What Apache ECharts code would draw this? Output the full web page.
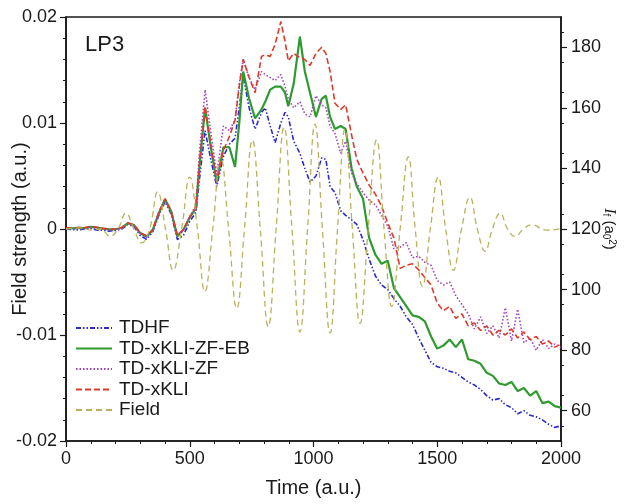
<!DOCTYPE html>
<html>
<head>
<meta charset="utf-8">
<script src="https://cdn.jsdelivr.net/npm/echarts@6/dist/echarts.min.js"></script>
<style>
html,body{margin:0;padding:0;background:#fff;}
#chart{width:635px;height:504px;}
</style>
</head>
<body>
<div id="chart"></div>
<script>
// ---- data ----
const times = [0,25,50,75,100,125,150,175,200,225,250,275,300,325,350,375,400,425,450,475,500,525,
  540,562,585,609,636,660,683,700,716,740,764,790,805,825,845,868,885,898,920,945,965,986,1010,1033,1050,1067,1087,1110,1130,1154,1175,1200,
  1225,1250,1275,1300,1325,1350,1375,1400,1425,1450,1475,1500,1525,1550,1575,1600,1625,1650,1675,1700,1725,1750,1775,1800,1825,1850,1875,1900,1925,1950,1975,2000];

const tdhf = [120.0,119.8,119.7,120.0,120.2,119.6,119.6,119.3,119.5,120.0,121.5,120.8,117.8,116.6,119.0,124.5,129.0,125.0,116.5,118.0,122.5,125.5,
  137,152.5,143,134,144,148,150,160,170.5,160,153,158.5,160,154,148.5,155,158.5,157,149,145,140,135.5,137.5,143.5,143,134,132,126,124.5,123,121.5,116.5,
  110,104.5,101.5,100,97,94.5,91,88.5,84,80,76,74.5,74,73,72.5,71,69.5,68.5,67,65,63.5,64,62,61,59,60,58.5,58,57,55.5,54.5,55];

const zfeb = [120.3,120.2,120.4,120.3,120.7,120.5,120.1,119.9,119.9,120.4,121.9,121.3,118.6,117.5,119.6,125.2,129.8,125.8,117.6,119.8,123.8,126.8,
  141.5,160,147,135.5,147,147,140.5,155,172,163,156.5,159.5,162,166,167,167,165,160.5,168,183.5,172,165,157,163,164,157,153,154,153,140,134,130,
  117,111.5,108.5,109.5,100.5,97.5,94.5,91.5,91,89.5,84.5,80.5,81.5,83.5,81,83.5,77,76.5,75.5,72.5,71.5,69,68.5,69.5,66.5,67.5,65,66.5,62.5,63,61.5,61];

const zf = [120.2,120.0,120.2,120.1,120.5,120.2,119.9,119.6,119.8,120.2,121.7,121.0,118.4,117.2,119.4,125.2,129.7,125.7,117.6,119.6,124.0,128.0,
  146,166,152,138,154,152.5,156,168,176,170,166,172,171,170,169,171,167,163,160,162,158,157,164,161,160,154,151.5,145,149,138.5,135,132,
  129.5,128,124.5,121,113.5,114,115.5,110.5,111,109,108,103,101.5,102.5,98,95,92,87,91,85.5,88,84,94,83,93.5,82.5,84,80,83.5,80.5,82,81];

const xkli = [120.4,120.3,120.5,120.4,120.9,120.6,120.2,120.0,120.0,120.5,122.0,121.4,118.8,117.8,119.8,125.5,130.0,126.0,117.8,120.0,124.0,127.0,
  142,160.5,148,135.5,146,150.5,156,167,176,170,165,177,177.5,177,181,188.5,182,175.5,178,176.5,176,174,178,180,178,172,161.5,159.5,161,151,143,138.5,
  134.5,131.5,127.5,122,117,107,108,108.5,106.5,104,101.5,95.5,93,94.5,90.5,92,88,89,86.5,88,85,86.5,85,87,84,86,83.5,84.5,82,83,81,82];

const fieldTimes = [0,60,100,140,178,210,242,274,306,338,370,402,433,467,500,531,561,593,625,657,690,721,753,785,817,849,881,913,945,976,1006,1036,1067,1097,1127,1157,1188,1221,1255,1285,1316,1350,1383,1411,1440,1472,1504,1534,1565,1598,1632,1662,1693,1723,1754,1784,1814,1848,1881,1940,2000];
const fieldValues = [0,0.0001,-0.0001,0,-0.0007,0,0.0015,0,-0.0013,0,0.0035,0,-0.0039,0,0.0049,0,-0.0059,0,0.0068,0,-0.0075,0,0.0084,0,-0.0092,0,0.0096,0,-0.0097,0,0.0099,0,-0.0098,0,0.0094,0,-0.0089,0,0.0084,0,-0.0073,0,0.0068,0,-0.0054,0,0.0049,0,-0.0039,0,0.0030,0,-0.0021,0,0.0015,0,-0.0007,0,0.0004,-0.0001,0];

const seriesNames = ['TDHF','TD-xKLI-ZF-EB','TD-xKLI-ZF','TD-xKLI','Field'];
const rightTicks = [60,80,100,120,140,160,180];

// ---- build ----
function pairs(xs, ys){ return xs.map((x,i)=>[x, ys[i]]); }
const FONT = '"Liberation Sans", Arial, Helvetica, sans-serif';
const chart = echarts.init(document.getElementById('chart'), null, {renderer:'canvas'});

const axisCommon = {
  axisLine:{show:true, onZero:false, lineStyle:{color:'#1a1a1a', width:1.6}},
  axisTick:{show:true, inside:false, length:6, lineStyle:{color:'#1a1a1a', width:1.2}},
  minorTick:{show:true, length:3, lineStyle:{color:'#1a1a1a', width:1}},
  splitLine:{show:false},
  axisLabel:{color:'#1a1a1a', fontSize:18, fontFamily:FONT},
  nameMoveOverlap:false
};

const lineSeries = (name, data, color, type, width, yIdx, smooth) => ({
  name, type:'line', data, yAxisIndex:yIdx, showSymbol:false, symbol:'none',
  smooth: smooth || false, animation:false,
  lineStyle:{color, type, width}, itemStyle:{color}
});

chart.setOption({
  animation:false,
  backgroundColor:'#fff',
  grid:{left:66, right:74, top:17, bottom:63, containLabel:false, outerBoundsMode:'none',
        show:true, borderColor:'#1a1a1a', borderWidth:1.6},
  title:{text:'LP3', left:80, top:29, textStyle:{fontSize:22, fontWeight:'normal', color:'#1a1a1a', fontFamily:FONT}},
  legend:{
    orient:'vertical', left:70, top:313, itemWidth:36, itemHeight:12, itemGap:0.5,
    data:seriesNames, itemStyle:{opacity:0},
    textStyle:{fontSize:19, lineHeight:20, color:'#1a1a1a', fontFamily:FONT, padding:[0,0,0,2]}
  },
  xAxis:Object.assign({}, axisCommon, {
    type:'value', min:0, max:2000, interval:500,
    minorTick:Object.assign({}, axisCommon.minorTick, {splitNumber:5}),
    name:'Time (a.u.)', nameLocation:'middle', nameGap:37,
    nameTextStyle:{fontSize:20, color:'#1a1a1a', fontFamily:FONT},
    axisLabel:Object.assign({}, axisCommon.axisLabel, {margin:9, formatter:v => String(v)})
  }),
  yAxis:[
    Object.assign({}, axisCommon, {
      type:'value', position:'left', min:-0.02, max:0.02, interval:0.01,
      minorTick:Object.assign({}, axisCommon.minorTick, {splitNumber:5}),
      name:'Field strength (a.u.)', nameLocation:'middle', nameGap:36,
      nameTextStyle:{fontSize:20, color:'#1a1a1a', fontFamily:FONT},
      axisLabel:Object.assign({}, axisCommon.axisLabel, {margin:9,
        formatter:v => Math.abs(v) < 1e-9 ? '0' : v.toFixed(2)})
    }),
    Object.assign({}, axisCommon, {
      type:'value', position:'right', min:50, max:190, interval:20,
      minorTick:Object.assign({}, axisCommon.minorTick, {splitNumber:4}),
      axisTick:Object.assign({}, axisCommon.axisTick, {customValues:rightTicks}),
      axisLabel:Object.assign({}, axisCommon.axisLabel, {margin:10, customValues:rightTicks}),
      name:'{i|I}{sub|f} (a{sub|0}{sup|2})', nameLocation:'middle', nameGap:40, nameRotate:-90,
      nameTextStyle:{fontSize:15, color:'#1a1a1a', fontFamily:FONT,
        rich:{
          i:{fontSize:16, fontStyle:'italic', fontFamily:'"Liberation Serif", serif', color:'#1a1a1a'},
          sub:{fontSize:10, verticalAlign:'bottom', color:'#1a1a1a', fontFamily:FONT, padding:[6,0,0,0]},
          sup:{fontSize:10, verticalAlign:'top', color:'#1a1a1a', fontFamily:FONT, padding:[0,0,6,0]}
        }}
    })
  ],
  series:[
    lineSeries('TDHF', pairs(times, tdhf), '#2a2ad0', [5,2,1.5,2,1.5,2], 1.6, 1),
    lineSeries('TD-xKLI-ZF-EB', pairs(times, zfeb), '#2f9a2f', 'solid', 2.2, 1),
    lineSeries('TD-xKLI-ZF', pairs(times, zf), '#a040c0', [1.5,2], 1.6, 1),
    lineSeries('TD-xKLI', pairs(times, xkli), '#dd3a2a', [6,3], 1.6, 1),
    lineSeries('Field', pairs(fieldTimes, fieldValues), '#b8b25c', [6,4], 1.3, 0, 0.45)
  ]
});
</script>
</body>
</html>
